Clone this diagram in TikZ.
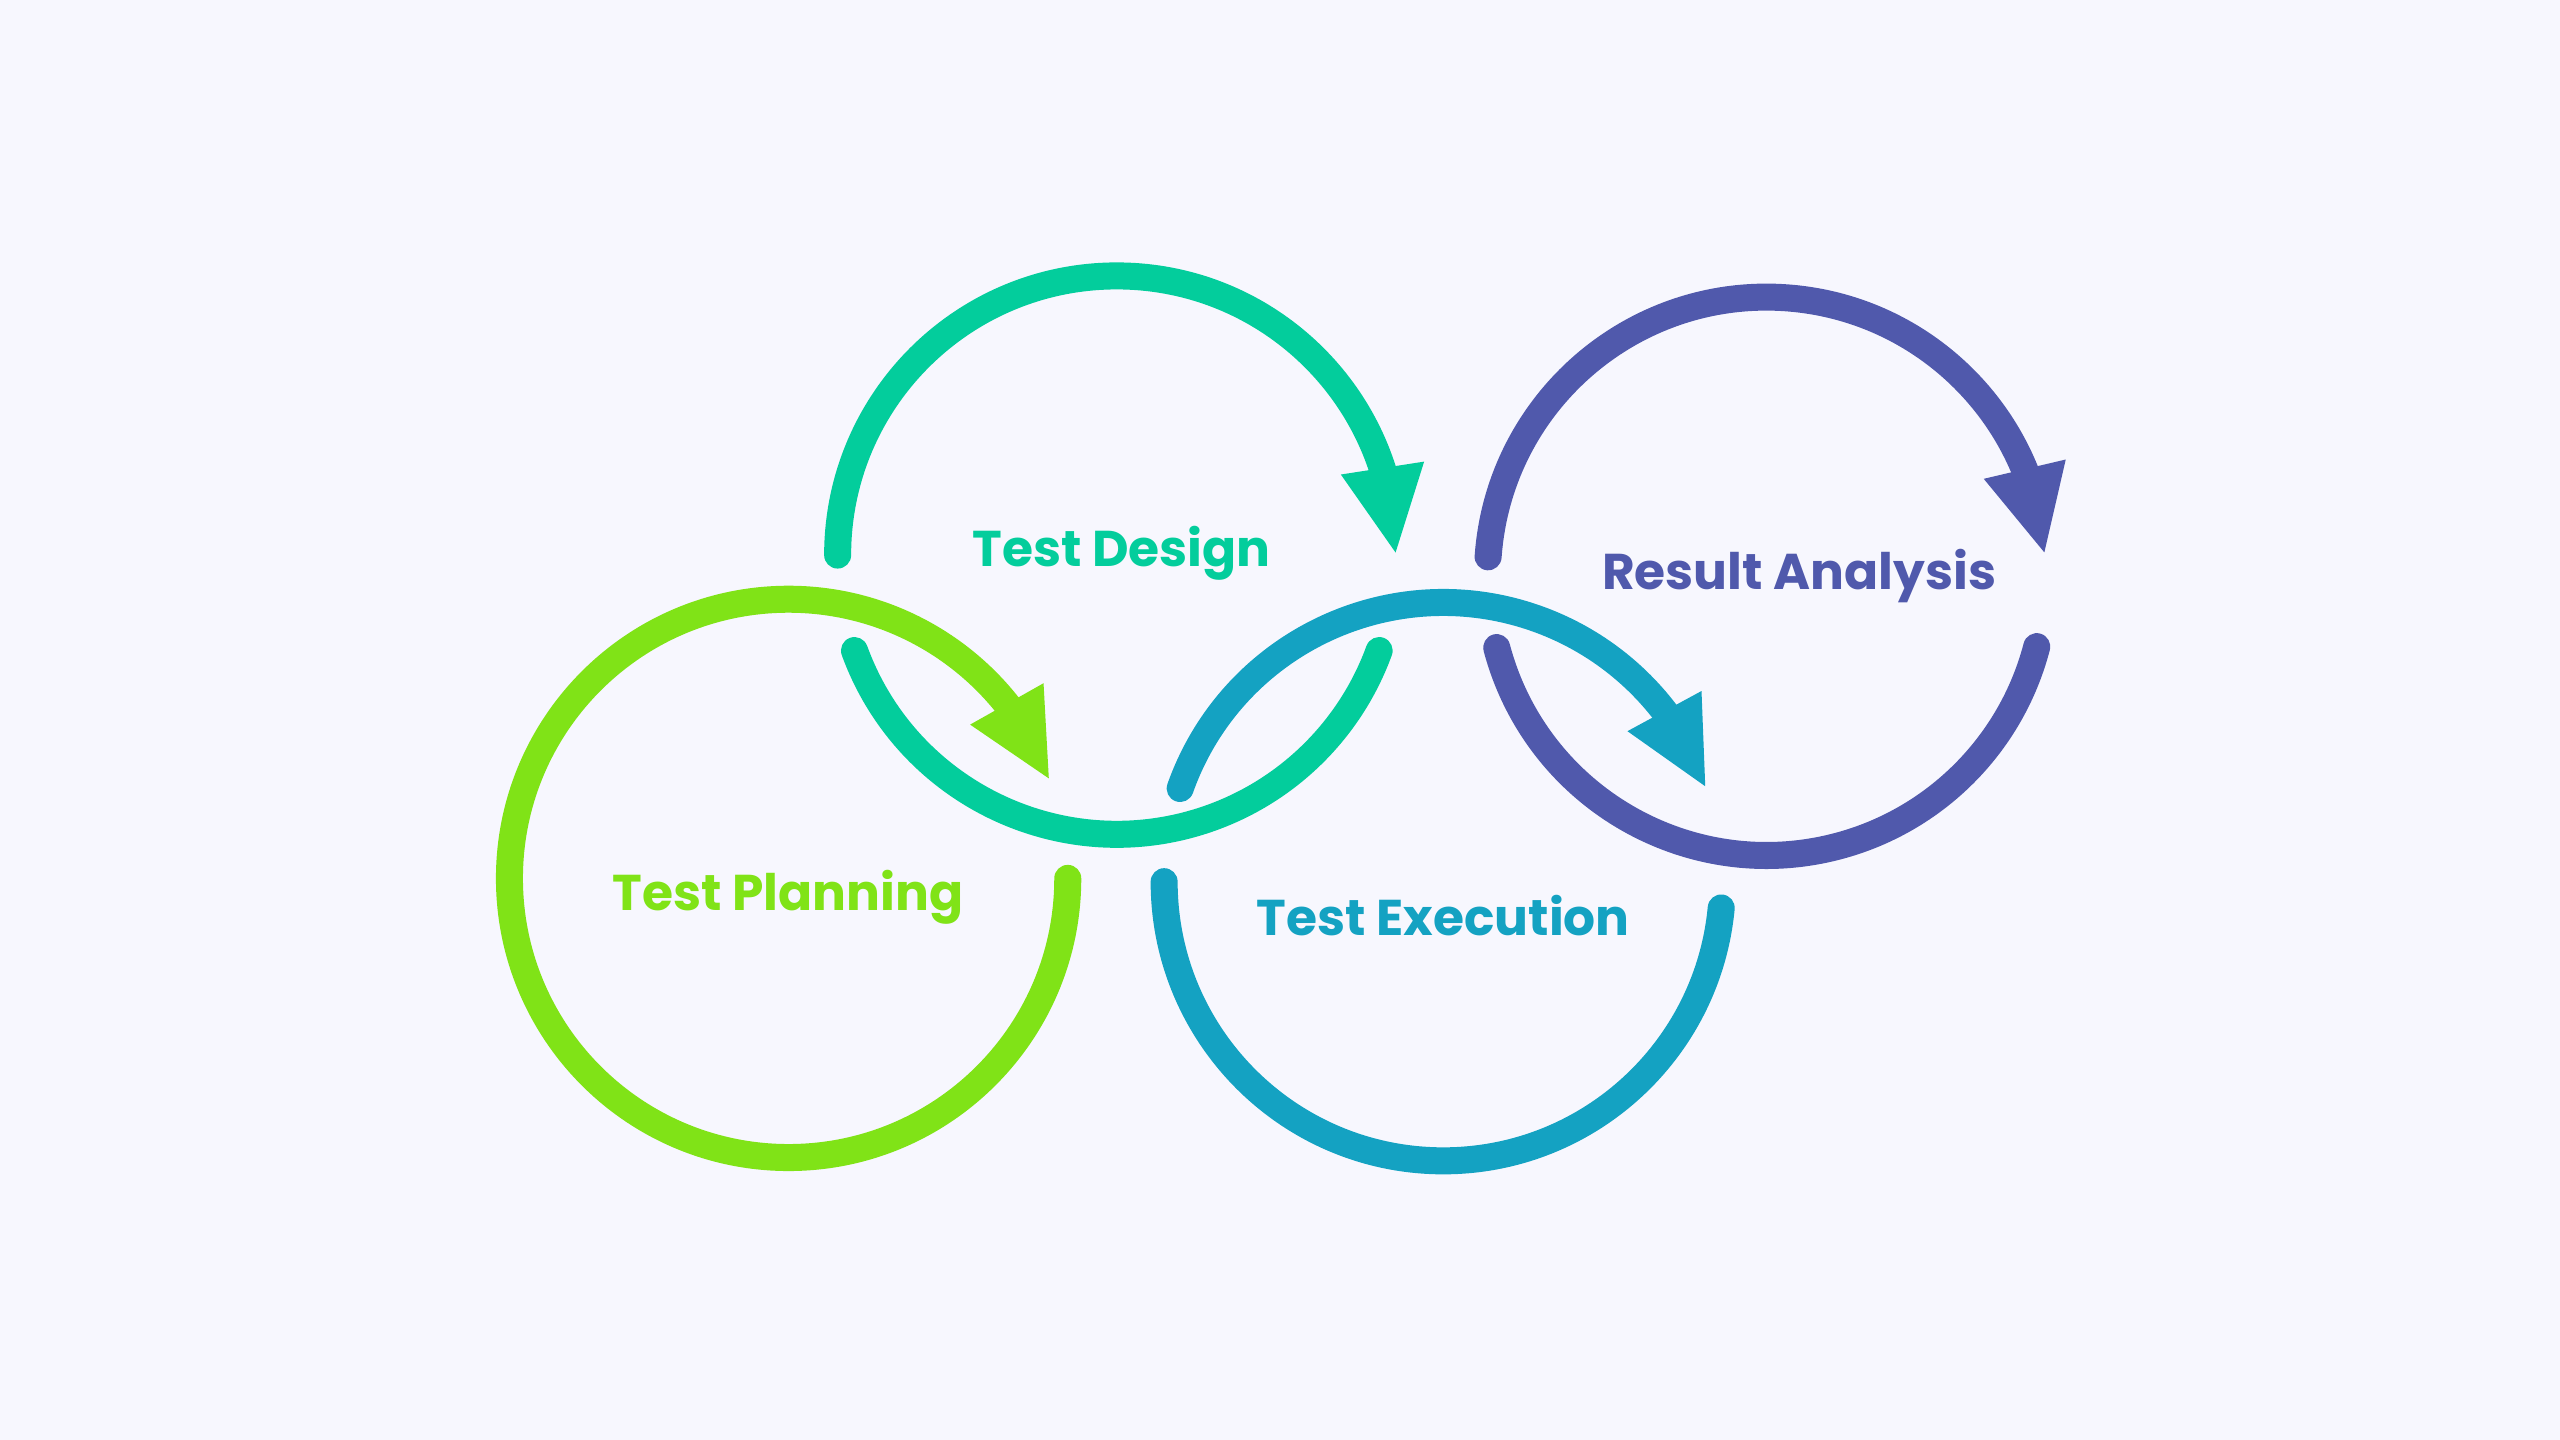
\documentclass[tikz,border=0pt]{standalone}
\usepackage{fontspec}
\setmainfont{Poppins}
\usetikzlibrary{arrows.meta,bending}
\definecolor{plangreen}{HTML}{80E317}
\definecolor{designteal}{HTML}{03CD9C}
\definecolor{execblue}{HTML}{14A2C2}
\definecolor{resultpurple}{HTML}{5059AC}
\definecolor{pagebg}{HTML}{F7F7FE}
\begin{document}
\begin{tikzpicture}[
      x=0.01cm, y=0.01cm,
      every node/.style={inner sep=0pt,anchor=base,font=\fontsize{14.3}{17}\selectfont\bfseries},
      ring/.style={line width=0.27cm,line cap=round},
      head/.style={-{Triangle[length=0.88cm,width=0.77cm]}}
    ]
      \fill[pagebg] (0,0) rectangle (2560,1440);
      \coordinate (plan) at (788.6,561.6);
      \coordinate (design) at (1116.8,884.9);
      \coordinate (exec) at (1443.3,558.3);
      \coordinate (result) at (1766.6,863.7);
      \draw[ring,head,plangreen] (plan) ++(0:2.79cm)
        arc[start angle=0,end angle=-339.5,radius=2.79cm];
      \draw[ring,head,designteal] (design) ++(180:2.79cm)
        arc[start angle=180,end angle=0,radius=2.79cm];
      \draw[ring,designteal] (design) ++(200:2.79cm)
        arc[start angle=200,end angle=340,radius=2.79cm];
      \draw[ring,head,execblue] (exec) ++(160.5:2.79cm)
        arc[start angle=160.5,end angle=19.5,radius=2.79cm];
      \draw[ring,execblue] (exec) ++(180:2.79cm)
        arc[start angle=180,end angle=354.6,radius=2.79cm];
      \draw[ring,head,resultpurple] (result) ++(176:2.79cm)
        arc[start angle=176,end angle=4.4,radius=2.79cm];
      \draw[ring,resultpurple] (result) ++(194.8:2.79cm)
        arc[start angle=194.8,end angle=345.4,radius=2.79cm];
      \node[text=plangreen] (plantext) at (787.8,529) {Test Planning};
      \node[text=designteal] (designtext) at (1121.7,873.5) {Test Design};
      \node[text=execblue] (exectext) at (1443.3,504.5) {Test Execution};
      \node[text=resultpurple] (resulttext) at (1799.2,850.6) {Result Analysis};
    \end{tikzpicture}
\end{document}
